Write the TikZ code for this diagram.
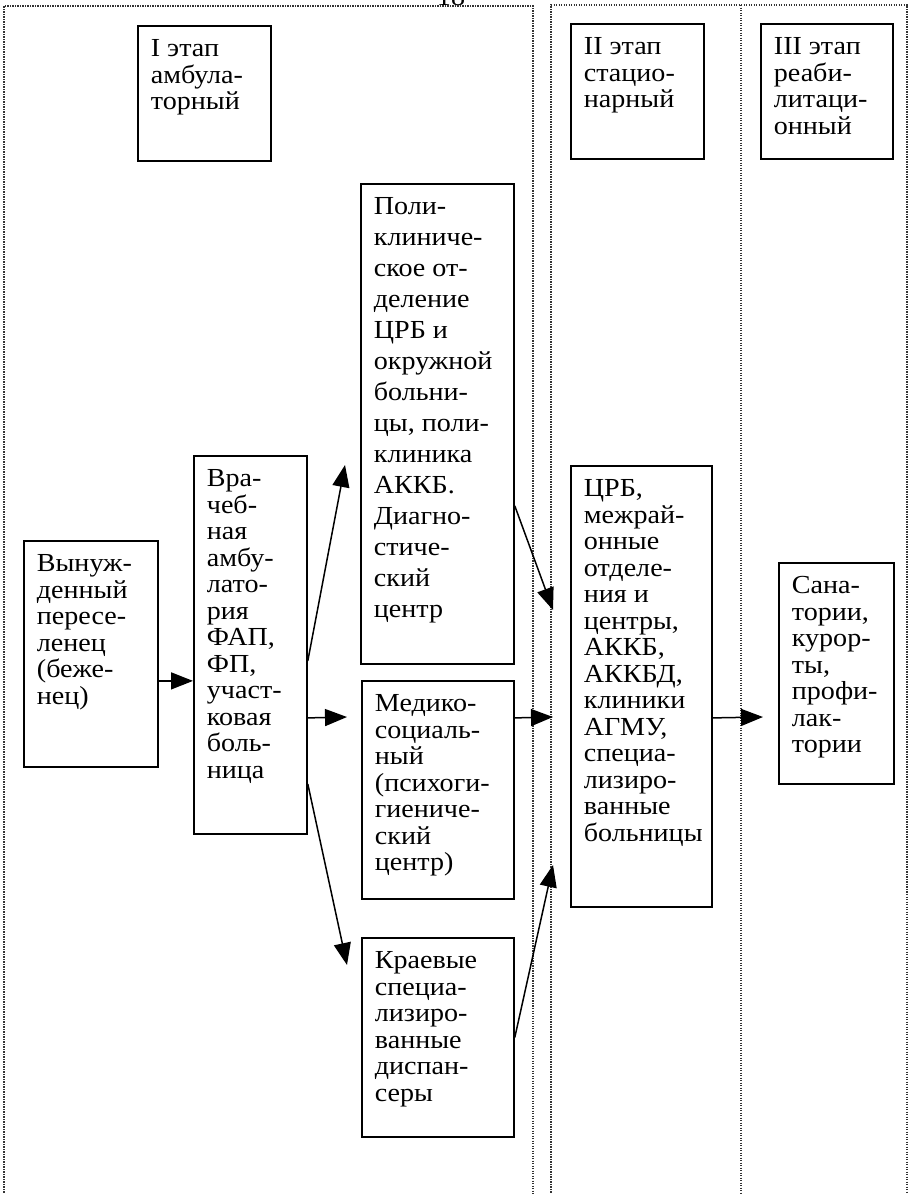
\documentclass[tikz,border=0pt]{standalone}
\usepackage{fontspec}
\setmainfont{Liberation Serif}[FakeStretch=1.08]
\usetikzlibrary{arrows.meta}
% #1 line spacing, #2 width, #3 height, #4 lines
\newcommand\boxtxt[4][26.5]{\parbox[c][#3pt][t]{#2pt}{\fontsize{26}{#1}\selectfont\parindent=0pt\leftskip=13pt\rightskip=0pt plus 1fil\vspace*{11pt}\rule{0pt}{20pt}#4}}
\tikzset{
  frame/.style={line width=1.1pt, dash pattern=on 1.1pt off 1.4pt, black!80},
  bx/.style={draw, line width=1.8pt, inner sep=0pt, anchor=north west},
  arr/.style={line width=1.5pt, -{Triangle[length=22pt,width=17pt]}},
}
\begin{document}
\begin{tikzpicture}[x=1pt,y=-1pt]
\useasboundingbox (0,0) rectangle (912,1194);
% page number, cut at top
\node[anchor=base, font=\fontsize{26}{29}\selectfont, inner sep=0pt] (pg) at (451,5) {18};
% dotted frames
\draw[frame] (4,1210) -- (4,6) -- (533,6) -- (533,1210);
\draw[frame] (551,1210) -- (551,5) -- (907,5) -- (907,1210);
\draw[frame] (741,5) -- (741,1210);
% stage headers
\node[bx] (s1) at (137,25) {\boxtxt{133}{135}{I этап\\ амбула-\\ торный}};
\node[bx] (s2) at (570,23) {\boxtxt{133}{135}{II этап\\ стацио-\\ нарный}};
\node[bx] (s3) at (760,23) {\boxtxt{132}{135}{III этап\\ реаби-\\ литаци-\\ онный}};
% boxes
\node[bx] (n1) at (23,540) {\boxtxt{134}{226}{Вынуж-\\ денный\\ пересе-\\ ленец\\ (беже-\\ нец)}};
\node[bx] (n2) at (193,455) {\boxtxt{113}{378}{Вра-\\ чеб-\\ ная\\ амбу-\\ лато-\\ рия\\ ФАП,\\ ФП,\\ участ-\\ ковая\\ боль-\\ ница}};
\node[bx] (n3) at (360,183) {\boxtxt[31]{153}{480}{Поли-\\ клиниче-\\ ское от-\\ деление\\ ЦРБ и\\ окружной\\ больни-\\ цы, поли-\\ клиника\\ АККБ.\\ Диагно-\\ стиче-\\ ский\\ центр}};
\node[bx] (n4) at (361,680) {\boxtxt{152}{218}{Медико-\\ социаль-\\ ный\\ (психоги-\\ гиениче-\\ ский\\ центр)}};
\node[bx] (n5) at (361,937) {\boxtxt{152}{199}{Краевые\\ специа-\\ лизиро-\\ ванные\\ диспан-\\ серы}};
\node[bx] (n6) at (570,465) {\boxtxt{141}{441}{ЦРБ,\\ межрай-\\ онные\\ отделе-\\ ния и\\ центры,\\ АККБ,\\ АККБД,\\ клиники\\ АГМУ,\\ специа-\\ лизиро-\\ ванные\\ больницы}};
\node[bx] (n7) at (778,562) {\boxtxt{115}{221}{Сана-\\ тории,\\ курор-\\ ты,\\ профи-\\ лак-\\ тории}};
% free arrow ends
\coordinate (cP) at (345,465);
\coordinate (cM) at (347,717);
\coordinate (cK) at (347,965);
\coordinate (cR1) at (553,610);
\coordinate (cR2) at (553,717);
\coordinate (cR3) at (553,865);
\coordinate (cS) at (763,717);
% arrows
\draw[arr] ([yshift=-27pt]n1.east) -- ([yshift=-36pt]n2.west);
\draw[arr] ([yshift=-16pt]n2.east) -- (cP);
\draw[arr] ([yshift=-73pt]n2.east) -- (cM);
\draw[arr] ([yshift=-139pt]n2.east) -- (cK);
\draw[arr] ([yshift=-82pt]n3.east) -- (cR1);
\draw[arr] ([yshift=72pt]n4.east) -- (cR2);
\draw[arr] (n5.east) -- (cR3);
\draw[arr] ([yshift=-31.5pt]n6.east) -- (cS);
\end{tikzpicture}
\end{document}
